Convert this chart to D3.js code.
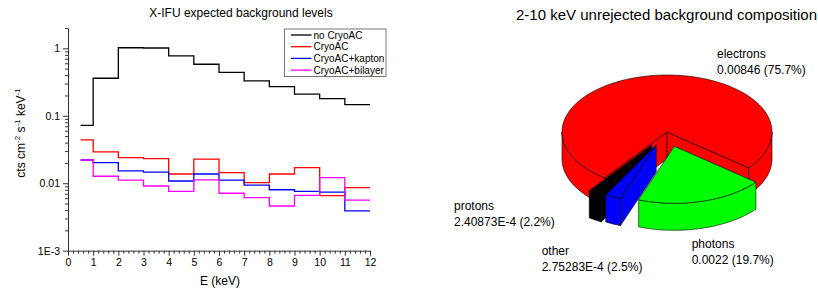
<!DOCTYPE html>
<html>
<head>
<meta charset="utf-8">
<script src="https://cdn.jsdelivr.net/npm/d3@7"></script>
<style>
  body { margin: 0; background: #fff; }
  text { font-family: "Liberation Sans", Arial, sans-serif; fill: #000; }
</style>
</head>
<body>
<script>
// --- data ---
const energyEdges = [0.5, 1, 2, 3, 4, 5, 6, 7, 8, 9, 10, 11, 12];
const noCryoAC = [0.072, 0.36, 1.02, 1.01, 0.77, 0.58, 0.44, 0.33, 0.27, 0.21, 0.18, 0.146];
const cryoAC = [0.0438, 0.0291, 0.0239, 0.0232, 0.0137, 0.0227, 0.0144, 0.0102, 0.0137, 0.017, 0.00655, 0.0086];
const cryoACkapton = [0.0221, 0.0202, 0.0152, 0.0146, 0.0108, 0.0137, 0.0111, 0.0094, 0.0080, 0.0076, 0.0074, 0.0039];
const cryoACbilayer = [0.0221, 0.0127, 0.0111, 0.0091, 0.0076, 0.0112, 0.0071, 0.0061, 0.0046, 0.0066, 0.0121, 0.0056];
const seriesNames = ["no CryoAC", "CryoAC", "CryoAC+kapton", "CryoAC+bilayer"];
const seriesColors = ["#000000", "#ff0000", "#0000ff", "#ff00ff"];

const xTicks = [0, 1, 2, 3, 4, 5, 6, 7, 8, 9, 10, 11, 12];
const yTicks = [0.001, 0.01, 0.1, 1];
const yTickLabels = ["1E-3", "0.01", "0.1", "1"];

const pieNames = ["electrons", "photons", "other", "protons"];
const pieValues = [0.00846, 0.0022, 2.75283e-4, 2.40873e-4];
const pieValueText = ["0.00846 (75.7%)", "0.0022 (19.7%)", "2.75283E-4 (2.5%)", "2.40873E-4 (2.2%)"];
const pieColors = ["#ff0000", "#00ff00", "#0000ff", "#000000"];
const pieExplode = [0, 0.26, 0.25, 0.27];

const svg = d3.select("body").append("svg")
    .attr("width", 818)
    .attr("height", 293);

// ---------------- left: step lines on log scale ----------------
let x = d3.scaleLinear().domain([0, 12]).range([68, 370]);
let y = d3.scaleLog().domain([0.001, 2]).range([250.7, 28]);

// minor ticks
let xMinor = d3.range(0, 12.001, 0.2).filter(v => Math.abs(v - Math.round(v)) > 1e-6);
svg.append("g")
    .attr("transform", "translate(0," + y(0.001) + ")")
    .call(d3.axisBottom(x).tickValues(xMinor).tickSize(3).tickFormat(""))
    .call(g => g.select(".domain").remove());

let yMinor = [];
[0.001, 0.01, 0.1].forEach(dec => { for (let k = 2; k <= 9; k++) yMinor.push(dec * k); });
yMinor.push(2);
svg.append("g")
    .attr("transform", "translate(" + x(0) + ",0)")
    .call(d3.axisLeft(y).tickValues(yMinor).tickSize(3).tickFormat(""))
    .call(g => g.select(".domain").remove());

// major axes
svg.append("g")
    .attr("class", "xaxis")
    .attr("transform", "translate(0," + y(0.001) + ")")
    .call(d3.axisBottom(x).tickValues(xTicks).tickSize(5).tickSizeOuter(0).tickPadding(3).tickFormat(d3.format("d")));

svg.append("g")
    .attr("class", "yaxis")
    .attr("transform", "translate(" + x(0) + ",0)")
    .call(d3.axisLeft(y).tickValues(yTicks).tickSize(5).tickSizeOuter(0).tickPadding(3)
        .tickFormat((d, i) => yTickLabels[i]));

svg.selectAll(".xaxis text, .yaxis text")
    .style("font-size", "10.5px")
    .style("font-family", '"Liberation Sans", Arial, sans-serif');
svg.selectAll("g line, g path.domain").attr("stroke", "#333");

// step series
let stepLine = d3.line()
    .x(d => x(d[0]))
    .y(d => y(d[1]))
    .curve(d3.curveStepAfter);

[noCryoAC, cryoAC, cryoACkapton, cryoACbilayer].forEach((vals, i) => {
  let pts = vals.map((v, j) => [energyEdges[j], v]);
  pts.push([energyEdges[energyEdges.length - 1], vals[vals.length - 1]]);
  svg.append("path")
      .datum(pts)
      .attr("fill", "none")
      .attr("stroke", seriesColors[i])
      .attr("stroke-width", 1.3)
      .attr("d", stepLine);
});

// titles
svg.append("text")
    .attr("x", 241).attr("y", 17)
    .attr("text-anchor", "middle")
    .style("font-size", "12px")
    .text("X-IFU expected background levels");

svg.append("text")
    .attr("x", 220).attr("y", 285)
    .attr("text-anchor", "middle")
    .style("font-size", "12px")
    .text("E (keV)");

let ylab = svg.append("text")
    .attr("transform", "translate(25,133) rotate(-90)")
    .attr("text-anchor", "middle")
    .style("font-size", "12px");
ylab.append("tspan").text("cts cm");
ylab.append("tspan").attr("dy", -5).style("font-size", "8px").text("-2");
ylab.append("tspan").attr("dy", 5).text(" s");
ylab.append("tspan").attr("dy", -5).style("font-size", "8px").text("-1");
ylab.append("tspan").attr("dy", 5).text(" keV");
ylab.append("tspan").attr("dy", -5).style("font-size", "8px").text("-1");

// legend
let legend = svg.append("g");
legend.append("rect")
    .attr("x", 284.5).attr("y", 29)
    .attr("width", 101.5).attr("height", 47.5)
    .attr("fill", "#fff")
    .attr("stroke", "#555")
    .attr("stroke-width", 0.8);
seriesNames.forEach((name, i) => {
  let ry = 35 + i * 11.7;
  legend.append("line")
      .attr("x1", 291).attr("x2", 311.5)
      .attr("y1", ry).attr("y2", ry)
      .attr("stroke", seriesColors[i])
      .attr("stroke-width", 1.3);
  legend.append("text")
      .attr("x", 313.5).attr("y", ry + 3.6)
      .style("font-size", "10px")
      .text(name);
});

// ---------------- right: 3D exploded pie ----------------
const cx = 667, cy = 132, rx = 105, ry = 57, depth = 27;
const total = d3.sum(pieValues);
const redEnd = 129 * Math.PI / 180;
const start = redEnd - 2 * Math.PI * pieValues[0] / total;

let arcs = d3.pie().sort(null).value(d => d)
    .startAngle(start).endAngle(start + 2 * Math.PI)(pieValues);

function rim(a, ox, oy, dz) {
  return [cx + ox + rx * Math.sin(a), cy + oy - ry * Math.cos(a) + dz];
}
function arcPts(a0, a1, ox, oy, dz) {
  let n = Math.max(2, Math.ceil(Math.abs(a1 - a0) / 0.02));
  return d3.range(n + 1).map(i => rim(a0 + (a1 - a0) * i / n, ox, oy, dz));
}
let poly = pts => d3.line()(pts) + "Z";

let pieG = svg.append("g");
let order = arcs.map((a, i) => i)
    .sort((p, q) => {
      let mp = (arcs[p].startAngle + arcs[p].endAngle) / 2;
      let mq = (arcs[q].startAngle + arcs[q].endAngle) / 2;
      return -Math.cos(mp) - -Math.cos(mq);
    });

order.forEach(i => {
  let a0 = arcs[i].startAngle, a1 = arcs[i].endAngle;
  let mid = (a0 + a1) / 2;
  let ox = rx * pieExplode[i] * Math.sin(mid);
  let oy = -ry * pieExplode[i] * Math.cos(mid);
  let apex = [cx + ox, cy + oy];
  let apexB = [cx + ox, cy + oy + depth];
  let g = pieG.append("g")
      .attr("fill", pieColors[i])
      .attr("stroke", "#000")
      .attr("stroke-width", 0.6)
      .attr("stroke-linejoin", "round");

  // radial cut faces that face the viewer
  if (Math.sin(a0) < 0) {
    g.append("path").attr("d", poly([apex, rim(a0, ox, oy, 0), rim(a0, ox, oy, depth), apexB]));
  }
  if (Math.sin(a1) > 0) {
    g.append("path").attr("d", poly([apex, rim(a1, ox, oy, 0), rim(a1, ox, oy, depth), apexB]));
  }
  // outer wall, front half only
  for (let k = -1; k <= 1; k++) {
    let s = Math.max(a0, Math.PI / 2 + 2 * Math.PI * k);
    let e = Math.min(a1, 3 * Math.PI / 2 + 2 * Math.PI * k);
    if (e > s) {
      let top = arcPts(s, e, ox, oy, 0);
      let bot = arcPts(s, e, ox, oy, depth).reverse();
      g.append("path").attr("d", poly(top.concat(bot)));
    }
  }
  // top face
  g.append("path").attr("d", poly([apex].concat(arcPts(a0, a1, ox, oy, 0))));
});

svg.append("text")
    .attr("x", 516).attr("y", 19.5)
    .style("font-size", "15px")
    .text("2-10 keV unrejected background composition");

const labelPos = [[717, 57.5], [691.7, 248], [541.7, 255], [454, 210]];
pieNames.forEach((name, i) => {
  let t = svg.append("text")
      .attr("x", labelPos[i][0]).attr("y", labelPos[i][1])
      .style("font-size", "12px");
  t.append("tspan").text(name);
  t.append("tspan").attr("x", labelPos[i][0]).attr("dy", 16.3).text(pieValueText[i]);
});
</script>
</body>
</html>
